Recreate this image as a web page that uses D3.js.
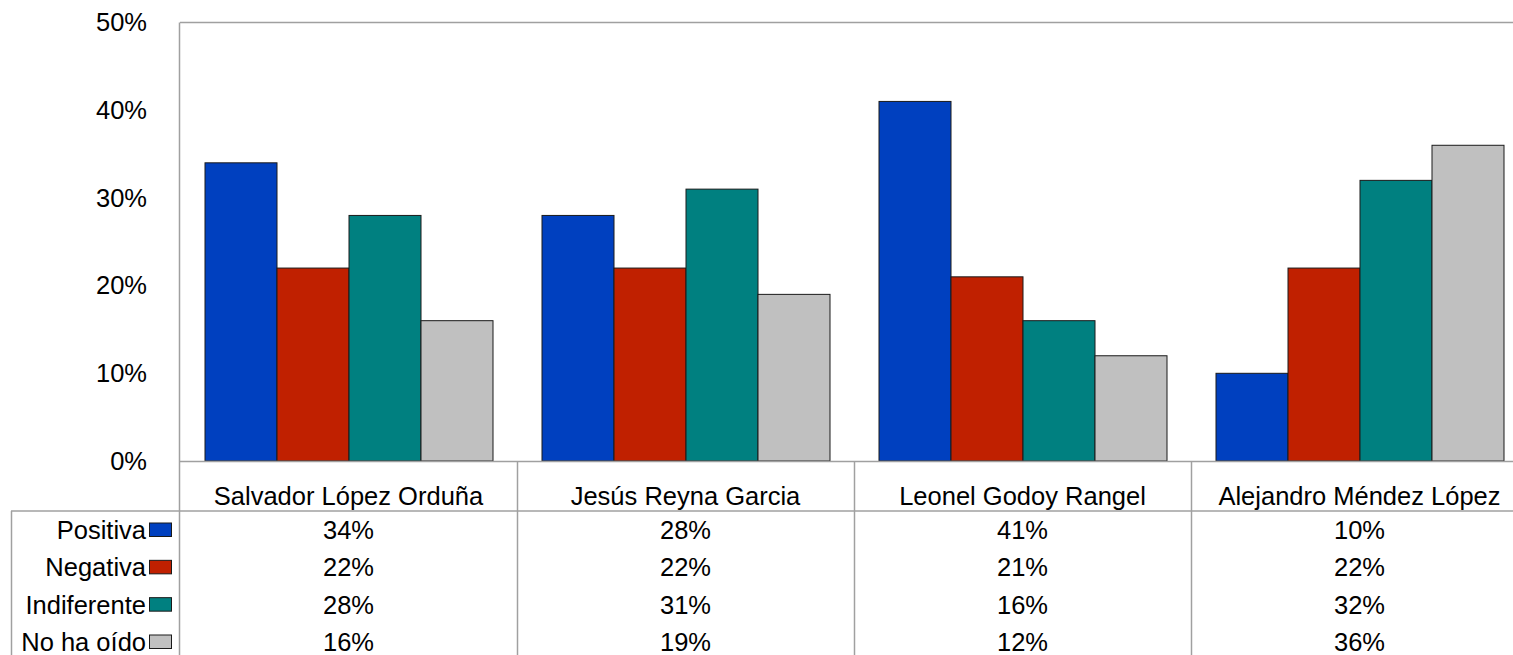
<!DOCTYPE html>
<html><head><meta charset="utf-8">
<script src="https://cdn.jsdelivr.net/npm/d3@7"></script>
<style>
html,body{margin:0;padding:0;background:#fff;overflow:hidden}
text{font-family:"Liberation Sans",Arial,sans-serif;fill:#000}
</style></head>
<body><svg id="c" width="1513" height="655"></svg>
<script>
const categories = ["Salvador López Orduña","Jesús Reyna Garcia","Leonel Godoy Rangel","Alejandro Méndez López"];
const seriesNames = ["Positiva","Negativa","Indiferente","No ha oído"];
const positiva = [34,28,41,10];
const negativa = [22,22,21,22];
const indiferente = [28,31,16,32];
const noHaOido = [16,19,12,36];
const seriesColors = ["#0040BF","#C02000","#008080","#C0C0C0"];
const yTicks = [0,10,20,30,40,50];

(function(){
const seriesValues = [positiva,negativa,indiferente,noHaOido];
const svg = d3.select("#c");
const W = 1513, H = 655;
const FS = "25.5px";
const plotLeft = 180, plotTop = 22.5, zeroY = 461, colW = 337;
const plotRight = plotLeft + colW*categories.length;
const headerBottom = 511;
const grid = "#A0A0A0";

const x = d3.scaleBand().domain(categories).range([plotLeft, plotRight]).paddingInner(0).paddingOuter(0);
const y = d3.scaleLinear().domain([0,50]).range([zeroY, plotTop]);
const xi = d3.scaleBand().domain(seriesNames).range([25, colW-24]).padding(0);

svg.append("line").attr("x1",plotLeft).attr("x2",W).attr("y1",plotTop).attr("y2",plotTop).attr("stroke",grid).attr("stroke-width",1.5);
svg.append("line").attr("x1",plotLeft-0.5).attr("x2",plotLeft-0.5).attr("y1",plotTop).attr("y2",H).attr("stroke",grid).attr("stroke-width",1.5);

const g = svg.append("g");
categories.forEach((c,ci)=>{
  seriesNames.forEach((s,si)=>{
    const v = seriesValues[si][ci];
    g.append("rect")
      .attr("x", x(c)+xi(s))
      .attr("y", y(v))
      .attr("width", xi.bandwidth())
      .attr("height", zeroY - y(v))
      .attr("fill", seriesColors[si])
      .attr("stroke", "#1a1a1a").attr("stroke-width",1);
  });
});

svg.append("line").attr("x1",plotLeft).attr("x2",W).attr("y1",zeroY+0.5).attr("y2",zeroY+0.5).attr("stroke",grid).attr("stroke-width",1.5);

const yAxis = d3.axisLeft(y).tickValues(yTicks).tickFormat(d=>d+"%").tickSize(0).tickPadding(0);
const ya = svg.append("g").attr("transform",`translate(147,0)`).call(yAxis);
ya.select(".domain").remove();
ya.selectAll("text").style("font-size",FS).style("font-family","'Liberation Sans',Arial,sans-serif").attr("fill","#000");

svg.append("line").attr("x1",11).attr("x2",W).attr("y1",headerBottom).attr("y2",headerBottom).attr("stroke",grid).attr("stroke-width",1.5);
svg.append("line").attr("x1",11.5).attr("x2",11.5).attr("y1",headerBottom).attr("y2",H).attr("stroke",grid).attr("stroke-width",1.5);
categories.forEach((c,ci)=>{
  if(ci>0){
    svg.append("line").attr("x1",x(c)+0.5).attr("x2",x(c)+0.5).attr("y1",zeroY).attr("y2",H).attr("stroke",grid).attr("stroke-width",1.5);
  }
  svg.append("text").attr("x",x(c)+x.bandwidth()/2).attr("y",496).attr("dy","0.35em")
    .attr("text-anchor","middle").style("font-size",FS).text(c);
});
const rowY = d3.scalePoint().domain(seriesNames).range([530,642]);
seriesNames.forEach((s,si)=>{
  const ry = rowY(s);
  svg.append("text").attr("x",146).attr("y",ry).attr("dy","0.35em").attr("text-anchor","end").style("font-size",FS).text(s);
  svg.append("rect").attr("x",149.5).attr("y",ry-7).attr("width",22).attr("height",13.5)
    .attr("fill",seriesColors[si]).attr("stroke","#1a1a1a").attr("stroke-width",1);
  categories.forEach((c,ci)=>{
    svg.append("text").attr("x",x(c)+x.bandwidth()/2).attr("y",ry).attr("dy","0.35em")
      .attr("text-anchor","middle").style("font-size",FS).text(seriesValues[si][ci]+"%");
  });
});
})();
</script></body></html>
